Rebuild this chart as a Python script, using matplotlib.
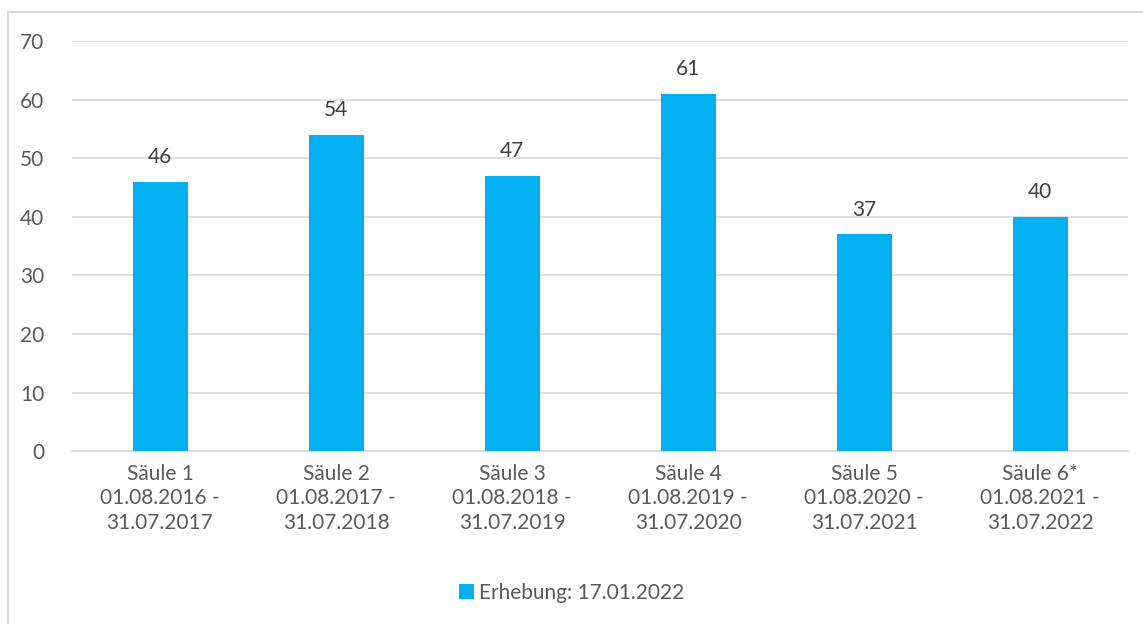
import matplotlib.pyplot as plt
from matplotlib.patches import Rectangle

categories = [
    "Säule 1\n01.08.2016 -\n31.07.2017",
    "Säule 2\n01.08.2017 -\n31.07.2018",
    "Säule 3\n01.08.2018 -\n31.07.2019",
    "Säule 4\n01.08.2019 -\n31.07.2020",
    "Säule 5\n01.08.2020 -\n31.07.2021",
    "Säule 6*\n01.08.2021 -\n31.07.2022",
]
values = [46, 54, 47, 61, 37, 40]
series_name = "Erhebung: 17.01.2022"

bar_color = "#00b0f0"
text_color = "#595959"
grid_color = "#d9d9d9"

plt.rcParams['font.family'] = ['Lato', 'DejaVu Sans']
fs = 15

fig = plt.figure(figsize=(11.43, 6.24), dpi=100)
ax = fig.add_axes([0.063, 0.277, 0.924, 0.657])

# chart frame (right and bottom edges run off the image)
fig.patches.append(Rectangle((8 / 1143, -20 / 624), 1160 / 1143, 632 / 624,
                             transform=fig.transFigure, fill=False,
                             edgecolor=grid_color, linewidth=1.5))

x = range(len(values))
ax.bar(x, values, width=0.3125, color=bar_color, label=series_name, zorder=3)

for xi, v in zip(x, values):
    ax.text(xi, v + 2.5, str(v), ha='center', va='bottom', fontsize=fs, color='#404040')

ax.set_xlim(-0.5, len(values) - 0.5)
ax.set_ylim(0, 70)
ax.set_yticks(range(0, 71, 10))
ax.yaxis.grid(True, color=grid_color, linewidth=1.2, zorder=0)
ax.set_xticks(list(x))
ax.set_xticklabels(categories, fontsize=fs, color=text_color, linespacing=1.3)
ax.tick_params(axis='y', labelsize=fs, labelcolor=text_color, length=0, pad=20)
ax.tick_params(axis='x', length=0, pad=9)

for side in ['top', 'right', 'left']:
    ax.spines[side].set_visible(False)
ax.spines['bottom'].set_color(grid_color)
ax.spines['bottom'].set_linewidth(1.2)

leg = fig.legend(loc='center', bbox_to_anchor=(0.5, 0.05), frameon=False,
                 fontsize=fs, handlelength=0.7, handleheight=0.7, handletextpad=0.25)
for t in leg.get_texts():
    t.set_color(text_color)

fig.savefig("out.png", dpi=100)
